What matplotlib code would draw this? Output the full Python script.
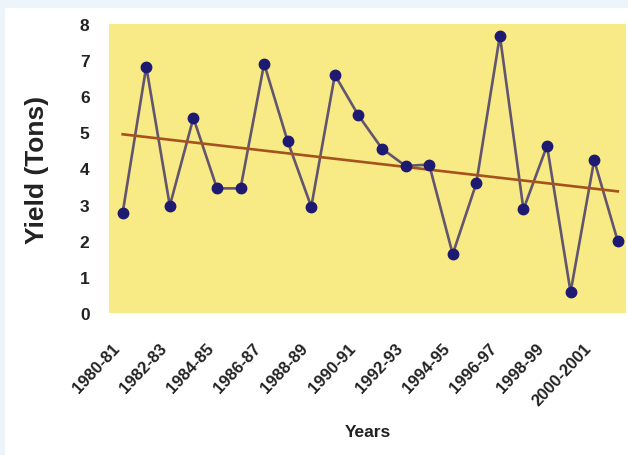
"""
Yield per season with a linear trend line, yellow plot panel.
"""

import matplotlib
import matplotlib.pyplot as plt
import numpy as np
from matplotlib.patches import Rectangle

matplotlib.use("Agg")

# ---------------------------------------------------------------------------
# Data
# ---------------------------------------------------------------------------

seasons = [
    "1980-81", "1981-82", "1982-83", "1983-84", "1984-85", "1985-86",
    "1986-87", "1987-88", "1988-89", "1989-90", "1990-91", "1991-92",
    "1992-93", "1993-94", "1994-95", "1995-96", "1996-97", "1997-98",
    "1998-99", "1999-2000", "2000-2001", "2001-02",
]
yield_tons = [
    2.78, 6.82, 2.97, 5.40, 3.45, 3.45, 6.90, 4.75, 2.94, 6.59, 5.47,
    4.55, 4.07, 4.11, 1.63, 3.59, 7.68, 2.87, 4.63, 0.58, 4.23, 1.99,
]
y_ticks = [0, 1, 2, 3, 4, 5, 6, 7, 8]

# ---------------------------------------------------------------------------
# Style
# ---------------------------------------------------------------------------

FONT = ["Liberation Sans", "DejaVu Sans"]
PANEL = "#F8EA84"
LINE = "#62556F"
MARKER = "#1E1A72"
TREND = "#A4521E"
FRAME = "#EDF5FB"
TEXT = "#222222"

plt.rcParams["font.family"] = FONT

W, H = 628, 456
fig = plt.figure(figsize=(W / 100, H / 100), dpi=100, facecolor=FRAME)
# white card inside the light blue frame, kept behind the axes
card = Rectangle((5 / W, 0), 1, 1 - 9 / H, transform=fig.transFigure,
                 facecolor="white", edgecolor="none", zorder=-10)
fig.add_artist(card)

ax = fig.add_axes([109 / W, 1 - 314 / H, (626 - 109) / W, (314 - 25) / H])
ax.set_zorder(1)
ax.set_facecolor(PANEL)

x = np.arange(len(seasons))
y = np.array(yield_tons)

ax.plot(x, y, color=LINE, lw=1.9, zorder=2)
ax.plot(x, y, ls="none", marker="o", ms=7.5, color=MARKER, zorder=3)

# linear trend
slope, intercept = np.polyfit(x, y, 1)
ax.plot(x, slope * x + intercept, color=TREND, lw=1.9, zorder=2.5)

ax.set_xlim(-0.58, len(seasons) - 1 + 0.35)
ax.set_ylim(0, 8)
ax.set_yticks(y_ticks)
ax.set_yticklabels([str(v) for v in y_ticks], fontsize=12.5, fontweight="bold",
                   color=TEXT)
ax.set_xticks(x[::2])
ax.set_xticklabels(seasons[::2], rotation=47, ha="right", va="bottom",
                   rotation_mode="anchor", fontsize=12, fontweight="bold",
                   color=TEXT)
ax.tick_params(axis="y", length=0, pad=14)
ax.tick_params(axis="x", length=0, pad=27)

for s in ax.spines.values():
    s.set_visible(False)

ax.set_ylabel("Yield (Tons)", fontsize=19, fontweight="bold", color=TEXT)
ax.yaxis.set_label_coords(-0.116, 0.5)
ax.set_xlabel("Years", fontsize=12.5, fontweight="bold", color=TEXT)
ax.xaxis.set_label_coords(0.5, -0.384)

fig.savefig("out.png", dpi=100, facecolor=fig.get_facecolor())
plt.close(fig)
